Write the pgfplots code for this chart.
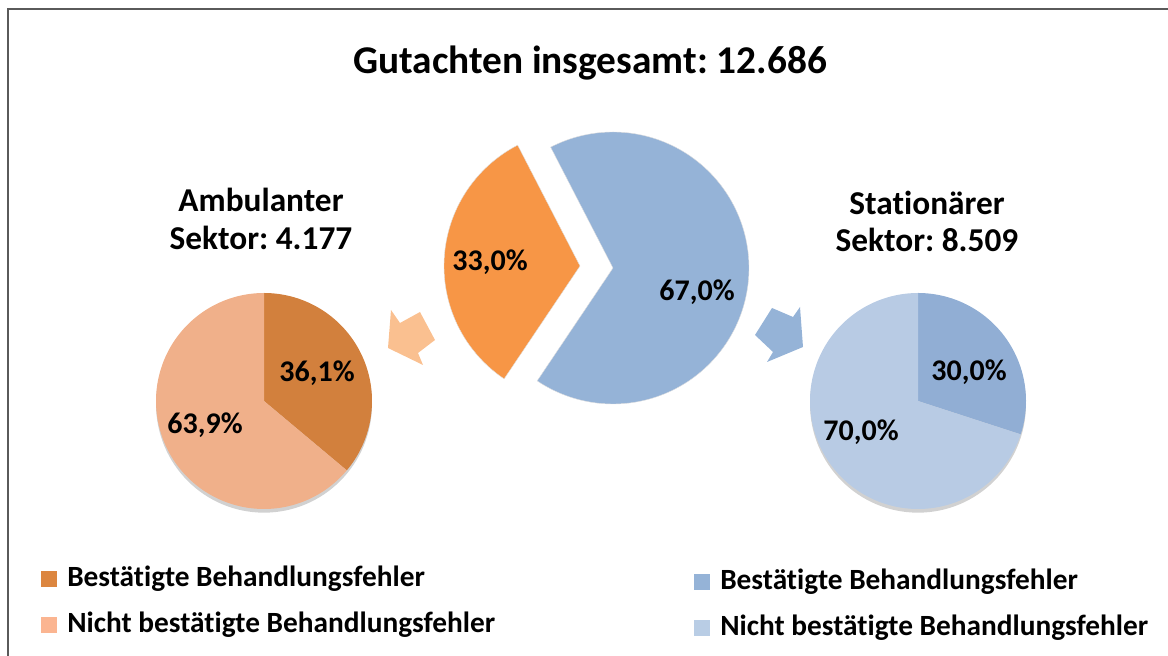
\documentclass[border=0pt]{standalone}
\usepackage{pgfplots}
\pgfplotsset{compat=1.18}
\usepackage{fontspec}
\setmainfont{Carlito}[Ligatures=NoCommon]
\frenchspacing

\definecolor{cOrange}{HTML}{F79646}
\definecolor{cBlue}{HTML}{95B3D7}
\definecolor{cAmbDark}{HTML}{D2803D}
\definecolor{cAmbLight}{HTML}{F0B08A}
\definecolor{cStatDark}{HTML}{91AED4}
\definecolor{cStatLight}{HTML}{B8CBE4}
\definecolor{cLegAmbDark}{HTML}{DC8640}
\definecolor{cLegAmbLight}{HTML}{FBB591}
\definecolor{cLegStatDark}{HTML}{95B3D7}
\definecolor{cLegStatLight}{HTML}{B9CDE5}
\definecolor{cArrowL}{HTML}{FAC090}
\definecolor{cArrowR}{HTML}{95B3D7}
\definecolor{cFrame}{HTML}{5A5A5A}

% ---- data (percent) ----
\def\GesAmb{33.0}
\def\GesStat{67.0}
\def\AmbBest{36.1}
\def\AmbNicht{63.9}
\def\StatBest{30.0}
\def\StatNicht{70.0}

\pgfmathsetmacro{\oStart}{117.3}
\pgfmathsetmacro{\oEnd}{\oStart+3.6*\GesAmb}
\pgfmathsetmacro{\bEnd}{\oEnd+3.6*\GesStat}
\pgfmathsetmacro{\lA}{90-3.6*\AmbBest}
\pgfmathsetmacro{\lB}{\lA-3.6*\AmbNicht}
\pgfmathsetmacro{\rA}{90-3.6*\StatBest}
\pgfmathsetmacro{\rB}{\rA-3.6*\StatNicht}

\begin{document}
\begin{tikzpicture}
\begin{axis}[name=main, hide axis, scale only axis,
  width=876pt, height=492pt,
  xmin=0, xmax=1168, ymin=0, ymax=656, clip=false]

% soft shadows under the small pies
\fill[black, opacity=0.18] (264,252) ellipse [x radius=81pt, y radius=81.5pt];
\fill[black, opacity=0.18] (918,252) ellipse [x radius=81pt, y radius=81.5pt];

% centre pie
\addplot[fill=cOrange, draw=black!12, line width=0.3pt, domain=\oStart:\oEnd, samples=90, variable=\t]
  ({580+136*cos(\t)},{390+136*sin(\t)}) -- (580,390) -- cycle;
\addplot[fill=cBlue, draw=black!12, line width=0.3pt, domain=\oEnd:\bEnd, samples=160, variable=\t]
  ({613+136*cos(\t)},{388+136*sin(\t)}) -- (613,388) -- cycle;

% left pie
\addplot[fill=cAmbDark, draw=none, domain=\lA:90, samples=90, variable=\t]
  ({264+108*cos(\t)},{255+108*sin(\t)}) -- (264,255) -- cycle;
\addplot[fill=cAmbLight, draw=none, domain=\lB:\lA, samples=160, variable=\t]
  ({264+108*cos(\t)},{255+108*sin(\t)}) -- (264,255) -- cycle;

% right pie
\addplot[fill=cStatDark, draw=none, domain=\rA:90, samples=90, variable=\t]
  ({918+108*cos(\t)},{255+108*sin(\t)}) -- (918,255) -- cycle;
\addplot[fill=cStatLight, draw=none, domain=\rB:\rA, samples=160, variable=\t]
  ({918+108*cos(\t)},{255+108*sin(\t)}) -- (918,255) -- cycle;

% arrows
\fill[cArrowL] (391,346) -- (400,333) -- (420,344) -- (435,316) -- (418,303) -- (423,291) -- (388,308) -- cycle;
\fill[cArrowR] (772,348) -- (793,339) -- (800,349) -- (803,309) -- (767,294) -- (773,304) -- (755,321) -- cycle;

% frame
\draw[cFrame, line width=1.5pt] (8,0) -- (8,647) -- (1168,647);

% texts
\node[anchor=base, font=\fontsize{29.5}{35}\selectfont\bfseries] at (590,582) {Gutachten insgesamt: 12.686};
\node[anchor=base, font=\fontsize{25}{30}\selectfont\bfseries] at (261,444) {Ambulanter};
\node[anchor=base, font=\fontsize{25}{30}\selectfont\bfseries] at (261,406) {Sektor: 4.177};
\node[anchor=base, font=\fontsize{25}{30}\selectfont\bfseries] at (927,441) {Stationärer};
\node[anchor=base, font=\fontsize{25}{30}\selectfont\bfseries] at (927,404) {Sektor: 8.509};

\node[font=\fontsize{22.5}{27}\selectfont\bfseries] at (490,394) {33,0\%};
\node[font=\fontsize{22.5}{27}\selectfont\bfseries] at (697,364) {67,0\%};
\node[font=\fontsize{22.5}{27}\selectfont\bfseries] at (317,283) {36,1\%};
\node[font=\fontsize{22.5}{27}\selectfont\bfseries] at (205,231) {63,9\%};
\node[font=\fontsize{22.5}{27}\selectfont\bfseries] at (969,284) {30,0\%};
\node[font=\fontsize{22.5}{27}\selectfont\bfseries] at (861,224) {70,0\%};

% legends
\fill[cLegAmbDark] (41,69) rectangle (57,85);
\fill[cLegAmbLight] (41,23) rectangle (57,39);
\node[anchor=base west, inner sep=0pt, font=\fontsize{22}{26}\selectfont\bfseries] at (67,69) {Bestätigte Behandlungsfehler};
\node[anchor=base west, inner sep=0pt, font=\fontsize{22}{26}\selectfont\bfseries] at (67,23) {Nicht bestätigte Behandlungsfehler};
\fill[cLegStatDark] (694,66) rectangle (710,82);
\fill[cLegStatLight] (694,20) rectangle (710,36);
\node[anchor=base west, inner sep=0pt, font=\fontsize{22}{26}\selectfont\bfseries] at (720,66) {Bestätigte Behandlungsfehler};
\node[anchor=base west, inner sep=0pt, font=\fontsize{22}{26}\selectfont\bfseries] at (720,20) {Nicht bestätigte Behandlungsfehler};
\end{axis}
\pgfresetboundingbox
\useasboundingbox (main.south west) rectangle (main.north east);
\end{tikzpicture}
\end{document}
